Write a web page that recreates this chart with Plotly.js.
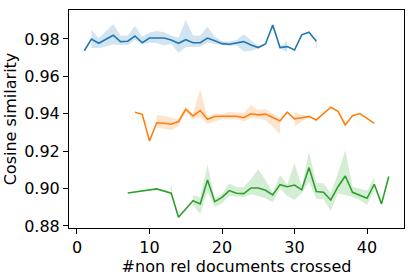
<!DOCTYPE html>
<html>
<head>
<meta charset="utf-8">
<script src="https://cdn.plot.ly/plotly-3.0.1.min.js"></script>
<style>html,body{margin:0;padding:0;background:#fff;}#chart{width:414px;height:276px;}</style>
</head>
<body>
<div id="chart"></div>
<script>
// Blue series
var blueX = [1,2,3,4,5,6,7,8,9,10,11,12,13,14,15,16,17,18,19,20,21,22,23,24,25,26,27,28,29,30,31,32,33];
var blueY = [0.9737,0.9800,0.9777,0.9798,0.9820,0.9786,0.9788,0.9816,0.9780,0.9805,0.9805,0.9805,0.9795,0.9777,0.9796,0.9780,0.9780,0.9805,0.9790,0.9775,0.9772,0.9778,0.9786,0.9768,0.9754,0.9773,0.9875,0.9754,0.9759,0.9741,0.9822,0.9836,0.9788];
var blueLo = [null,0.9753,0.9750,0.9760,0.9770,0.9768,0.9767,0.9795,0.9773,0.9780,0.9777,0.9765,0.9773,0.9727,0.9756,0.9759,0.9759,0.9780,0.9777,0.9768,0.9763,0.9767,0.9733,0.9736,0.9750,0.9770,null,0.9750,0.9729,null,null,null,0.9750];
var blueHi = [null,0.9848,0.9804,0.9842,0.9880,0.9818,0.9818,0.9870,0.9812,0.9834,0.9843,0.9836,0.9818,0.9807,0.9902,0.9818,0.9818,0.9866,0.9812,0.9789,0.9786,0.9795,0.9825,0.9795,0.9760,0.9776,null,0.9758,0.9789,null,null,null,0.9818];

// Orange series
var orangeX = [8,9,10,11,12,13,14,15,16,17,18,19,20,21,22,23,24,25,26,27,28,29,30,31,32,33,34,35,36,37,38,39,40,41];
var orangeY = [0.9408,0.9397,0.9255,0.9352,0.9349,0.9344,0.9358,0.9424,0.9388,0.9417,0.9371,0.9385,0.9387,0.9385,0.9387,0.9379,0.9400,0.9394,0.9398,0.9380,0.9362,0.9408,0.9373,0.9379,0.9386,0.9367,0.9400,0.9435,0.9413,0.9340,0.9390,0.9401,0.9375,0.9349];
var orangeLo = [null,null,null,0.9326,0.9320,0.9313,0.9335,0.9411,0.9371,0.9381,0.9344,0.9358,0.9370,0.9370,0.9370,0.9358,0.9378,0.9376,0.9365,0.9331,0.9290,null,0.9331,0.9358,0.9383,null,null,null,null,null,null,null,null,null];
var orangeHi = [null,null,null,0.9394,0.9390,0.9379,0.9370,0.9438,0.9403,0.9533,0.9381,0.9403,0.9397,0.9410,0.9408,0.9404,0.9447,0.9420,0.9424,0.9400,0.9378,null,0.9411,0.9394,0.9389,null,null,null,null,null,null,null,null,null];

// Green series
var greenX = [7,11,13,14,16,17,18,19,20,21,22,23,24,25,26,27,28,29,30,31,32,33,34,35,36,37,38,39,40,41,42,43];
var greenY = [0.8976,0.8998,0.8975,0.8846,0.8935,0.8918,0.9046,0.8930,0.8953,0.8989,0.8975,0.8973,0.9003,0.9003,0.8991,0.8966,0.9021,0.9010,0.9019,0.8993,0.9112,0.8984,0.8980,0.8939,0.9010,0.9067,0.8980,0.8966,0.8948,0.9023,0.8918,0.9064];
var greenLo = [null,null,0.8960,null,0.8912,0.8864,0.8983,0.8900,0.8921,0.8960,0.8957,0.8953,0.8970,0.8960,0.8948,0.8927,0.9002,0.8960,0.8939,0.8975,0.9037,0.8945,0.8943,0.8880,0.8975,0.8966,0.8955,0.8939,0.8912,0.8990,null,null];
var greenHi = [null,null,0.9014,null,0.8966,0.8953,0.9126,0.8948,0.8971,0.9028,0.9007,0.9008,0.9051,0.9103,0.9046,0.8980,0.9073,0.9020,0.9135,0.9008,0.9197,0.9030,0.9028,0.8975,0.9082,0.9206,0.9010,0.9000,0.8989,0.9058,null,null];

var xTicks = [0,10,20,30,40];
var yTicks = [0.88,0.90,0.92,0.94,0.96,0.98];
var xTitle = '#non rel documents crossed';
var yTitle = 'Cosine similarity';

var series = [
  {x: blueX, y: blueY, lo: blueLo, hi: blueHi, color: '#1f77b4', band: 'rgba(31,119,180,0.2)'},
  {x: orangeX, y: orangeY, lo: orangeLo, hi: orangeHi, color: '#ff7f0e', band: 'rgba(255,127,14,0.2)'},
  {x: greenX, y: greenY, lo: greenLo, hi: greenHi, color: '#2ca02c', band: 'rgba(44,160,44,0.2)'}
];

var traces = [];
series.forEach(function(s){
  var runs = [];
  var cur = [];
  for (var i = 0; i < s.x.length; i++) {
    if (s.lo[i] !== null && s.hi[i] !== null) { cur.push(i); }
    else { if (cur.length) runs.push(cur); cur = []; }
  }
  if (cur.length) runs.push(cur);
  runs.forEach(function(r){
    var xs = [], ys = [];
    r.forEach(function(i){ xs.push(s.x[i]); ys.push(s.hi[i]); });
    r.slice().reverse().forEach(function(i){ xs.push(s.x[i]); ys.push(s.lo[i]); });
    if (r.length === 1) {
      traces.push({x: [s.x[r[0]], s.x[r[0]]], y: [s.lo[r[0]], s.hi[r[0]]], mode: 'lines',
        line: {color: s.band, width: 1.2}, hoverinfo: 'skip', showlegend: false});
    } else {
      traces.push({x: xs, y: ys, mode: 'lines', fill: 'toself', fillcolor: s.band,
        line: {width: 0, color: s.band}, hoverinfo: 'skip', showlegend: false});
    }
  });
});
series.forEach(function(s){
  traces.push({x: s.x, y: s.y, mode: 'lines', line: {color: s.color, width: 1.6},
    hoverinfo: 'skip', showlegend: false});
});

var font = {family: 'DejaVu Sans', size: 16, color: '#000'};
var layout = {
  width: 414, height: 276,
  margin: {l: 69, r: 10, t: 10, b: 48, pad: 0},
  paper_bgcolor: '#fff', plot_bgcolor: '#fff',
  font: font,
  showlegend: false,
  xaxis: {
    range: [-1.1, 45.1], tickvals: xTicks, ticktext: xTicks.map(String),
    ticks: 'outside', ticklen: 5, tickwidth: 1, tickcolor: '#000',
    showgrid: false, zeroline: false, showline: true, mirror: true,
    linecolor: '#000', linewidth: 1, tickfont: font,
    title: {text: xTitle, font: font, standoff: 1}
  },
  yaxis: {
    range: [0.8789, 0.9955], tickvals: yTicks, ticktext: yTicks.map(function(v){return v.toFixed(2);}),
    ticks: 'outside', ticklen: 5, tickwidth: 1, tickcolor: '#000',
    showgrid: false, zeroline: false, showline: true, mirror: true,
    linecolor: '#000', linewidth: 1, tickfont: font,
    title: {text: yTitle, font: font, standoff: 3}
  }
};
Plotly.newPlot('chart', traces, layout, {displayModeBar: false, staticPlot: true});
</script>
</body>
</html>
